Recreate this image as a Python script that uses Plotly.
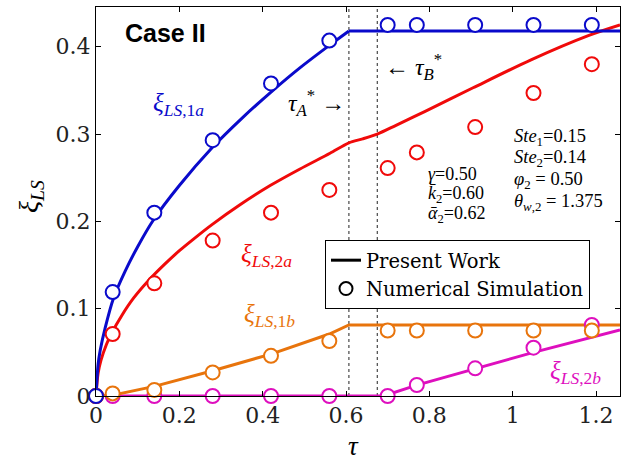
import plotly.graph_objects as go

# ---------------- data ----------------
tau_sim = [0, 0.04, 0.14, 0.28, 0.42, 0.56, 0.70, 0.77, 0.91, 1.05, 1.19]
xi_1a_sim = [0, 0.119, 0.21, 0.293, 0.358, 0.407, 0.425, 0.425, 0.425, 0.425, 0.425]
xi_2a_sim = [0, 0.071, 0.129, 0.178, 0.21, 0.236, 0.261, 0.279, 0.308, 0.347, 0.38]
xi_1b_sim = [0, 0.003, 0.007, 0.027, 0.046, 0.063, 0.075, 0.075, 0.075, 0.075, 0.075]
xi_2b_sim = [0, 0, 0, 0, 0, 0, 0, 0.0126, 0.0317, 0.0553, 0.0813]

tau_1a = [0, 0.005, 0.01, 0.022, 0.042, 0.07, 0.1, 0.137, 0.2, 0.278, 0.35, 0.42, 0.49, 0.56, 0.607]
xi_1a = [0, 0.036, 0.052, 0.078, 0.112, 0.143, 0.171, 0.201, 0.241, 0.284, 0.318, 0.348, 0.376, 0.4015, 0.418]
tau_1a_flat = [0.607, 1.2576]
xi_1a_flat = [0.418, 0.418]

tau_2a = [0, 0.005, 0.012, 0.025, 0.0376, 0.0616, 0.09, 0.1256, 0.165, 0.2016, 0.24, 0.2776,
          0.3456, 0.418, 0.4896, 0.5616, 0.607, 0.64, 0.675, 0.72, 0.79, 0.905, 1.044, 1.183, 1.2576]
xi_2a = [0, 0.026, 0.041, 0.059, 0.072, 0.092, 0.112, 0.132, 0.151, 0.167, 0.182, 0.196,
         0.219, 0.241, 0.260, 0.278, 0.290, 0.2945, 0.300, 0.310, 0.326, 0.353, 0.385, 0.413, 0.425]

tau_1b = [0, 0.04, 0.14, 0.28, 0.42, 0.56, 0.607, 1.2576]
xi_1b = [0, 0.001, 0.011, 0.029, 0.048, 0.071, 0.0813, 0.0813]

tau_2b = [0, 0.69, 0.77, 0.91, 1.05, 1.2576]
xi_2b = [0, 0, 0.0125, 0.031, 0.05, 0.0756]

tau_star = [0.607, 0.675]  # tau_A*, tau_B*

x_ticks = [0, 0.2, 0.4, 0.6, 0.8, 1, 1.2]
x_ticklabels = ["0", "0.2", "0.4", "0.6", "0.8", "1", "1.2"]
y_ticks = [0, 0.1, 0.2, 0.3, 0.4]
y_ticklabels = ["0", "0.1", "0.2", "0.3", "0.4"]

# ---------------- style ----------------
BLUE = "#0A0ACB"
RED = "#F00A0A"
ORANGE = "#E8740C"
MAGENTA = "#DE0FBE"
SERIF = "Liberation Serif"
TICKFONT = "DejaVu Serif"

W, H = 627, 469
L, R, T, B = 96, 7, 7, 73


def px(x):
    return (x - L) / (W - L - R)


def py(y):
    return (H - B - y) / (H - T - B)


fig = go.Figure()

# lines
line_sets = [
    (tau_2b, xi_2b, MAGENTA, "linear"),
    (tau_1b, xi_1b, ORANGE, "linear"),
    (tau_2a, xi_2a, RED, "spline"),
    (tau_1a, xi_1a, BLUE, "spline"),
    (tau_1a_flat, xi_1a_flat, BLUE, "linear"),
]
for tx, yy, c, shp in line_sets:
    fig.add_trace(go.Scatter(x=tx, y=yy, mode="lines",
                             line=dict(color=c, width=3, shape=shp, smoothing=0.8),
                             showlegend=False, hoverinfo="skip", cliponaxis=False))

# markers
for yy, c in [(xi_2b_sim, MAGENTA), (xi_2a_sim, RED), (xi_1b_sim, ORANGE), (xi_1a_sim, BLUE)]:
    fig.add_trace(go.Scatter(x=tau_sim, y=yy, mode="markers",
                             marker=dict(symbol="circle", size=14, color="white",
                                         line=dict(color=c, width=2)),
                             showlegend=False, cliponaxis=False))

# legend entries
fig.add_trace(go.Scatter(x=[None], y=[None], mode="lines", line=dict(color="black", width=3),
                         name="Present Work"))
fig.add_trace(go.Scatter(x=[None], y=[None], mode="markers",
                         marker=dict(symbol="circle", size=13, color="white",
                                     line=dict(color="black", width=2)),
                         name="Numerical Simulation"))

# dotted vertical lines
for t in tau_star:
    fig.add_shape(type="line", xref="x", yref="paper", x0=t, x1=t, y0=0, y1=1,
                  line=dict(color="#222222", width=1, dash="dot"), layer="below")

ann = []


def add(text, x, y, size, color="black", family=SERIF, xanchor="center", **kw):
    ann.append(dict(text=text, x=px(x), y=py(y), xref="paper", yref="paper",
                    showarrow=False, xanchor=xanchor, yanchor="middle",
                    font=dict(size=size, color=color, family=family), **kw))


add("<b>Case II</b>", 165, 33, 25, family="Liberation Sans")
add("<i>ξ</i><sub><i>LS</i>,1<i>a</i></sub>", 178, 104, 25, BLUE)
add("<i>ξ</i><sub><i>LS</i>,2<i>a</i></sub>", 266, 255, 25, RED)
add("<i>ξ</i><sub><i>LS</i>,1<i>b</i></sub>", 269, 315, 25, ORANGE)
add("<i>ξ</i><sub><i>LS</i>,2<i>b</i></sub>", 575, 372, 25, MAGENTA)
add("<i>τ</i><sub><i>A</i></sub><sup>*</sup> →", 316, 103, 24)
add("← <i>τ</i><sub><i>B</i></sub><sup>*</sup>", 413, 67, 24)

for i, s in enumerate(["<i>γ</i>=0.50", "<i>k̄</i><sub>2</sub>=0.60", "<i>ᾱ</i><sub>2</sub>=0.62"]):
    add(s, 426, 174 + 20 * i, 18, xanchor="left")
for i, s in enumerate(["<i>Ste</i><sub>1</sub>=0.15", "<i>Ste</i><sub>2</sub>=0.14",
                       "<i>φ</i><sub>2</sub> = 0.50", "<i>θ</i><sub><i>w</i>,2</sub> = 1.375"]):
    add(s, 512, 137 + 21.8 * i, 18.5, xanchor="left")

# axis titles
add("<i>ξ</i><sub><i>LS</i></sub>", 30, 197, 28, textangle=-90)
add("<i>τ</i>", 353, 446, 27)

fig.update_layout(
    width=W, height=H,
    margin=dict(l=L, r=R, t=T, b=B, autoexpand=False),
    paper_bgcolor="white", plot_bgcolor="white",
    annotations=ann,
    legend=dict(x=px(325), y=py(240), xanchor="left", yanchor="top",
                bgcolor="white", bordercolor="black", borderwidth=1,
                font=dict(family=TICKFONT, size=19.5, color="black"),
                tracegroupgap=0, itemwidth=30),
    xaxis=dict(range=[0, 1.2576], tickvals=x_ticks, ticktext=x_ticklabels,
               ticks="inside", ticklen=5, tickcolor="black", showline=True,
               linecolor="black", linewidth=1, mirror="ticks", showgrid=False,
               zeroline=False, automargin=False,
               tickfont=dict(family=TICKFONT, size=22, color="#222")),
    yaxis=dict(range=[0, 0.4455], tickvals=y_ticks, ticktext=y_ticklabels,
               ticks="inside", ticklen=5, tickcolor="black", showline=True,
               linecolor="black", linewidth=1, mirror="ticks", showgrid=False,
               zeroline=False, automargin=False,
               tickfont=dict(family=TICKFONT, size=22, color="#222")),
)

fig.write_html("out.html", config={"displayModeBar": False},
               post_script="document.body.style.margin='0px';")
